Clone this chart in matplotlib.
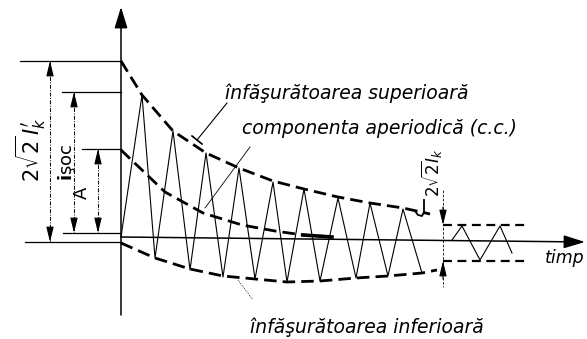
import matplotlib.pyplot as plt

# time axis runs to the right from the moment of the fault, current upward
# (both in drawing units, origin at the fault instant)
upper_env_t = [0, 21, 52, 85, 118, 152, 183, 217, 249, 282, 309]
upper_env_i = [176, 142, 106, 84, 69, 56, 48, 40, 34, 29, 23]

lower_env_t = [0, 34, 69, 102, 134, 166, 199, 235, 267, 301, 316]
lower_env_i = [-6, -21, -32, -39, -42, -45, -44, -41, -39, -36, -33]

dc_t = [0, 44, 82, 121, 154, 182, 211]
dc_i = [87, 45, 24, 12, 6, 2, 0]

wave_t = [0, 21, 34, 52, 69, 85, 102, 118, 134, 152, 166, 183, 199, 217,
          235, 249, 267, 282, 301]
wave_i = [0, 142, -21, 106, -33, 84, -40, 69, -42, 55, -45, 48, -44, 39,
          -41, 34, -39, 28, -36]

# steady state after the transient dies out
steady_start = 322
steady_end = 407
steady_top = 12
steady_bottom = -24
steady_t = [331, 341, 359, 379, 391]
steady_i = [-3, 11, -23, 11, -16]

# levels measured on the left side
peak_2sqrt2 = 176
peak_soc = 145
level_A = 88
base_soc = 4
base_low = -5


def dim_arrow(ax, x, y_from, y_to):
    ax.annotate('', xy=(x, y_to), xytext=(x, y_from),
                arrowprops=dict(arrowstyle='-|>,head_length=0.9,head_width=0.22',
                                color='black', lw=0.8, shrinkA=0, shrinkB=0))


def dimension(ax, x, y_top, y_bot):
    ax.plot([x, x], [y_top, y_bot], color='black', lw=0.7,
            linestyle=(0, (4, 1.5, 1, 1.5)))
    dim_arrow(ax, x, y_top - 14, y_top)
    dim_arrow(ax, x, y_bot + 14, y_bot)


fig = plt.figure(figsize=(5.87, 3.39), dpi=100)
ax = fig.add_axes([0, 0, 1, 1])
ax.set_xlim(-121, 466)
ax.set_ylim(-102, 237)
ax.axis('off')

# axes with arrows
ax.annotate('', xy=(0, 230), xytext=(0, -78),
            arrowprops=dict(arrowstyle='-|>,head_length=1.3,head_width=0.4',
                            color='black', lw=1.1, shrinkA=0, shrinkB=0))
ax.annotate('', xy=(464, -5), xytext=(0, 0),
            arrowprops=dict(arrowstyle='-|>,head_length=1.3,head_width=0.4',
                            color='black', lw=1.1, shrinkA=0, shrinkB=0))

# envelopes and aperiodic component
dash = (0, (4.5, 2.2))
ax.plot(upper_env_t, upper_env_i, color='black', lw=2.0, linestyle=dash)
ax.plot(lower_env_t, lower_env_i, color='black', lw=2.0, linestyle=dash)
ax.plot(dc_t, dc_i, color='black', lw=2.0, linestyle=dash)
ax.plot(dc_t[-2:], dc_i[-2:], color='black', lw=2.6)

# short-circuit current
ax.plot(wave_t, wave_i, color='black', lw=0.8)

# steady state
ax.plot([steady_start, steady_end], [steady_top, steady_top], color='black',
        lw=1.6, linestyle=(0, (4, 2.5)))
ax.plot([steady_start, steady_end], [steady_bottom, steady_bottom], color='black',
        lw=1.6, linestyle=(0, (4, 2.5)))
ax.plot(steady_t, steady_i, color='black', lw=0.8)
ax.plot([steady_start, steady_start], [47, -50], color='black', lw=0.6,
        linestyle=(0, (3, 2)))
dim_arrow(ax, steady_start, steady_top + 18, steady_top)
dim_arrow(ax, steady_start, steady_bottom - 18, steady_bottom)
ax.plot([303, 303, 301, 297, 294], [37, 25, 21, 22, 26], color='black', lw=1.3)
ax.text(310, 64, r'$2\sqrt{2}I_k$', rotation=90, fontsize=12,
        ha='center', va='center')

# reference lines on the left
ax.plot([-101, 0], [peak_2sqrt2, peak_2sqrt2], color='black', lw=0.9)
ax.plot([-59, 0], [peak_soc, peak_soc], color='black', lw=0.9)
ax.plot([-39, 0], [level_A, level_A], color='black', lw=0.9)
ax.plot([-58, 0], [base_soc, base_soc], color='black', lw=0.9)
ax.plot([-96, 0], [base_low, base_low], color='black', lw=0.9)

dimension(ax, -71, peak_2sqrt2, base_low)
dimension(ax, -47, peak_soc, base_soc)
dimension(ax, -23, level_A, base_soc)

ax.text(-90, 87, r"$2\sqrt{2}\,I_k^{\prime}$", rotation=90, fontsize=15,
        ha='center', va='center')
ax.text(-54, 75, r"$\mathbf{i}$şoc", rotation=90, fontsize=13,
        ha='center', va='center')
ax.text(-39, 44, "A", rotation=90, fontsize=13, ha='center', va='center')

# labels with leaders
lab = dict(fontsize=13.5, style='italic', va='center', ha='left')
ax.text(104, 144, "înfăşurătoarea superioară", **lab)
ax.text(121, 109, "componenta aperiodică (c.c.)", **lab)
ax.text(129, -90, "înfăşurătoarea inferioară", **lab)
ax.text(424, -21, "timp", fontsize=12.5, style='italic', va='center', ha='left')

ax.plot([106, 76], [134, 97], color='black', lw=0.8)
ax.plot([71, 81], [101, 93], color='black', lw=1.2)
ax.plot([129, 84], [90, 29], color='black', lw=0.6)
ax.plot([117, 132], [-43, -63], color='black', lw=0.6, linestyle=(0, (1, 1.5)))

fig.savefig('out.png', dpi=100)
